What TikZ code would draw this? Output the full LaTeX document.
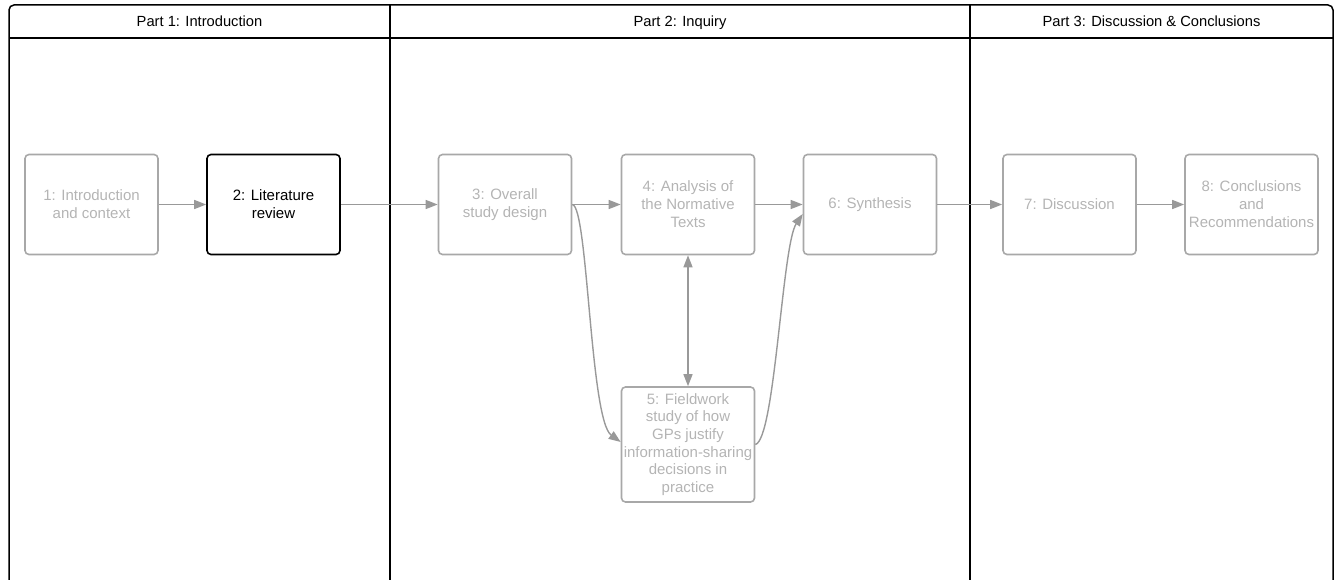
\documentclass[tikz,border=0pt]{standalone}
\usepackage{fontspec}
\setmainfont{Liberation Sans}
\usetikzlibrary{arrows.meta}
\definecolor{boxgray}{HTML}{A8A8A8}
\definecolor{txtgray}{HTML}{B4B4B4}
\definecolor{arrgray}{HTML}{999999}
\tikzset{
  stage/.style={draw=boxgray, line width=1.6pt, rounded corners=4pt,
    minimum width=133pt, minimum height=100pt, align=center, inner sep=0pt,
    text=txtgray, font=\fontsize{15}{18}\selectfont},
  current/.style={stage, draw=black, text=black},
  flow/.style={draw=arrgray, line width=1.4pt,
    -{Triangle[length=12pt,width=9pt]}},
  twoway/.style={draw=arrgray, line width=1.4pt,
    {Triangle[length=12pt,width=9pt]}-{Triangle[length=12pt,width=9pt]}},
  frame/.style={draw=black, line width=1.5pt},
  parthead/.style={font=\fontsize{14.7}{16}\selectfont, inner sep=0pt, anchor=base}
}
\begin{document}
\begin{tikzpicture}[x=1pt, y=-1pt]
\useasboundingbox (0,0) rectangle (1336,580);
\clip (0,0) rectangle (1336,580);
% swimlane frame
\draw[frame, rounded corners=5pt] (9,590) -- (9,5) -- (1333,5) -- (1333,590);
\draw[frame] (9,38) -- (1333,38);
\draw[frame] (390,5) -- (390,590);
\draw[frame] (970,5) -- (970,590);
\node[parthead] (p1) at (199.5,26.5) {Part 1: Introduction};
\node[parthead] (p2) at (680,26.5) {Part 2: Inquiry};
\node[parthead] (p3) at (1151.5,26.5) {Part 3: Discussion \& Conclusions};
% stages
\node[stage] (n1) at (91.5,204.5) {1: Introduction\\and context};
\node[current] (n2) at (273.5,204.5) {2: Literature\\review};
\node[stage] (n3) at (505,204.5) {3: Overall\\study design};
\node[stage] (n4) at (688,204.5) {4: Analysis of\\the Normative\\Texts};
\node[stage, minimum height=115pt, font=\fontsize{15}{17.7}\selectfont] (n5) at (688,444.5)
  {5: Fieldwork\\study of how\\GPs justify\\information-sharing\\decisions in\\practice};
\node[stage] (n6) at (870,204.5) {6: Synthesis};
\node[stage] (n7) at (1069.5,204.5) {7: Discussion};
\node[stage] (n8) at (1251.5,204.5) {8: Conclusions\\and\\Recommendations};
% connectors
\draw[flow] (n1) -- (n2);
\draw[flow] (n2) -- (n3);
\draw[flow] (n3) -- (n4);
\draw[flow] (n4) -- (n6);
\draw[flow] (n6) -- (n7);
\draw[flow] (n7) -- (n8);
\draw[twoway] (n4) -- (n5);
\draw[flow] (n3.east) .. controls (588,206) and (590,420) .. ([yshift=2.5pt]n5.west);
\draw[flow] (n5.east) .. controls (775,440) and (782,245) .. ([yshift=-9.5pt]n6.west);
\end{tikzpicture}
\end{document}
